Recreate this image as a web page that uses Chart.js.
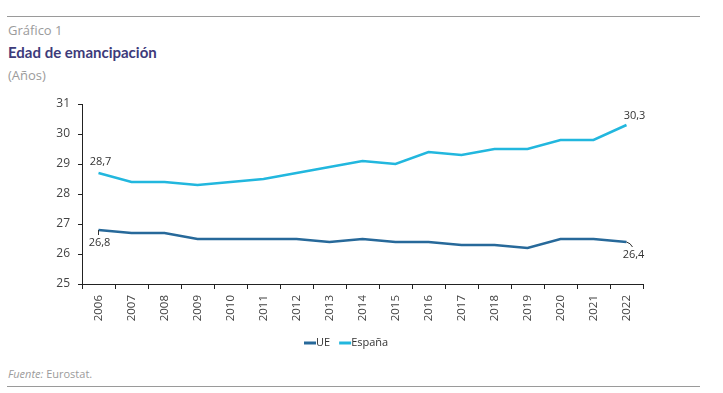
<!DOCTYPE html>
<html>
<head>
  <meta charset="utf-8">
  <script src="https://cdn.jsdelivr.net/npm/chart.js"></script>
  <style>
    html, body { margin: 0; padding: 0; background: #fff; }
    body { width: 723px; height: 393px; position: relative; overflow: hidden; font-family: "Open Sans", Lato, sans-serif; }
    .rule { position: absolute; left: 7px; width: 693px; height: 1px; background: #9a9a9a; }
    .txt { position: absolute; left: 8px; white-space: nowrap; }
    #chartWrap { position: absolute; left: 0; top: 0; width: 723px; height: 393px; }
  </style>
</head>
<body>
  <div class="rule" style="top:16px"></div>
  <div class="txt" style="top:21px;font-size:13px;color:#9b9b9b;">Gráfico 1</div>
  <div class="txt" style="top:43px;font-family:Lato, sans-serif;font-size:15px;font-weight:bold;color:#3d3b7a;">Edad de emancipación</div>
  <div class="txt" style="top:66px;font-size:13px;color:#9b9b9b;">(Años)</div>
  <div class="txt" style="top:366px;font-size:11px;color:#9b9b9b;"><i>Fuente:</i> Eurostat.</div>
  <div class="rule" style="top:386px"></div>
  <div id="chartWrap"><canvas id="chart" width="723" height="393"></canvas></div>

  <script>
    const years = ['2006','2007','2008','2009','2010','2011','2012','2013','2014','2015','2016','2017','2018','2019','2020','2021','2022'];
    const ue = [26.8, 26.7, 26.7, 26.5, 26.5, 26.5, 26.5, 26.4, 26.5, 26.4, 26.4, 26.3, 26.3, 26.2, 26.5, 26.5, 26.4];
    const espana = [28.7, 28.4, 28.4, 28.3, 28.4, 28.5, 28.7, 28.9, 29.1, 29.0, 29.4, 29.3, 29.5, 29.5, 29.8, 29.8, 30.3];
    const yTicks = [25, 26, 27, 28, 29, 30, 31];

    const fmt = v => v.toFixed(1).replace('.', ',');

    // labels at first and last point of each series, plus the legend
    const extras = {
      id: 'extras',
      afterDatasetsDraw(chart) {
        const ctx = chart.ctx;
        ctx.save();
        ctx.font = '11px "Open Sans", Lato, sans-serif';
        ctx.fillStyle = '#333';
        ctx.textAlign = 'center';
        ctx.textBaseline = 'middle';
        const last = years.length - 1;
        const e0 = chart.getDatasetMeta(1).data[0];
        const eN = chart.getDatasetMeta(1).data[last];
        const u0 = chart.getDatasetMeta(0).data[0];
        const uN = chart.getDatasetMeta(0).data[last];
        ctx.fillText(fmt(espana[0]), e0.x + 2, e0.y - 11);
        ctx.fillText(fmt(espana[last]), eN.x + 8, eN.y - 9);
        ctx.fillText(fmt(ue[0]), u0.x + 1, u0.y + 13);
        ctx.fillText(fmt(ue[last]), uN.x + 7, uN.y + 13);
        // small leaders
        ctx.strokeStyle = '#333';
        ctx.lineWidth = 1;
        ctx.beginPath();
        ctx.moveTo(u0.x, u0.y);
        ctx.lineTo(u0.x, u0.y + 5);
        ctx.moveTo(uN.x, uN.y);
        ctx.quadraticCurveTo(uN.x + 4, uN.y + 1, uN.x + 6, uN.y + 5);
        ctx.stroke();

        // legend
        ctx.textAlign = 'left';
        let x = 304;
        const y = 343;
        chart.data.datasets.forEach(ds => {
          ctx.strokeStyle = ds.borderColor;
          ctx.lineWidth = 3;
          ctx.beginPath();
          ctx.moveTo(x, y);
          ctx.lineTo(x + 12, y);
          ctx.stroke();
          ctx.fillStyle = '#333';
          ctx.fillText(ds.label, x + 12, y);
          x += 12 + ctx.measureText(ds.label).width + 9;
        });
        ctx.restore();
      }
    };

    const ctx = document.getElementById('chart').getContext('2d');
    new Chart(ctx, {
      type: 'line',
      data: {
        labels: years,
        datasets: [
          { label: 'UE', data: ue, borderColor: '#27699a', backgroundColor: '#27699a', borderWidth: 2.5, pointRadius: 0, tension: 0 },
          { label: 'España', data: espana, borderColor: '#22b7de', backgroundColor: '#22b7de', borderWidth: 2.5, pointRadius: 0, tension: 0 }
        ]
      },
      options: {
        responsive: false,
        animation: false,
        events: [],
        layout: { padding: { top: 104, right: 80, left: 0, bottom: 0 } },
        plugins: { legend: { display: false }, tooltip: { enabled: false } },
        scales: {
          x: {
            offset: true,
            grid: { display: true, drawOnChartArea: false, offset: true, color: '#222', tickLength: 5 },
            border: { color: '#222', width: 1 },
            ticks: {
              minRotation: 90, maxRotation: 90, padding: 6,
              color: '#444', font: { size: 11.5, family: '"Open Sans", Lato, sans-serif' }
            },
            afterFit(scale) { scale.height = 109; }
          },
          y: {
            min: yTicks[0], max: yTicks[yTicks.length - 1],
            afterBuildTicks(scale) { scale.ticks = yTicks.map(v => ({ value: v })); },
            grid: { display: true, drawOnChartArea: false, color: '#222', tickLength: 4 },
            border: { color: '#222', width: 1 },
            ticks: {
              padding: 8, color: '#444',
              font: { size: 12, family: '"Open Sans", Lato, sans-serif' }
            },
            afterFit(scale) { scale.width = 82; }
          }
        }
      },
      plugins: [extras]
    });
  </script>
</body>
</html>
